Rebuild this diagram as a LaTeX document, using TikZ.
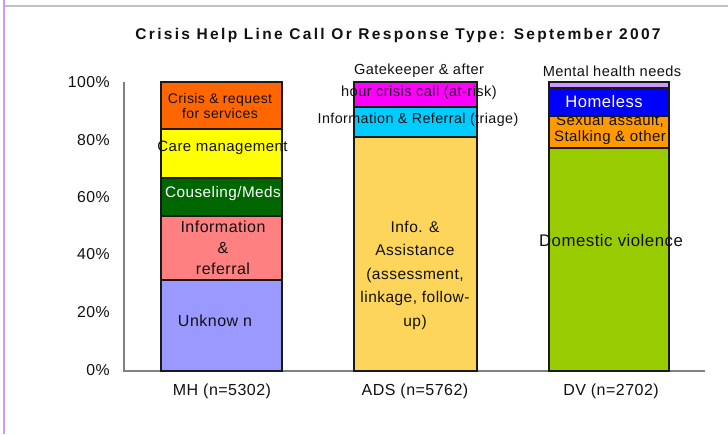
\documentclass[tikz,border=0pt]{standalone}
\usepackage{fontspec}
\setmainfont{Liberation Sans}[LetterSpace=3]
\newfontfamily\titlefont{Liberation Sans}[LetterSpace=15]
\definecolor{bpurple}{HTML}{CC99FF}
\definecolor{topgray}{HTML}{C0C0C0}
\definecolor{axisgray}{HTML}{808080}
\definecolor{cOrange}{HTML}{FF6600}
\definecolor{cYellow}{HTML}{FFFF00}
\definecolor{cDGreen}{HTML}{006600}
\definecolor{cSalmon}{HTML}{FF8080}
\definecolor{cPeri}{HTML}{9999FF}
\definecolor{cMagenta}{HTML}{FF00FF}
\definecolor{cCyan}{HTML}{00CCFF}
\definecolor{cGold}{HTML}{FCD55A}
\definecolor{cLav}{HTML}{CC99FF}
\definecolor{cBlue}{HTML}{0000FF}
\definecolor{cAmber}{HTML}{FF9900}
\definecolor{cLime}{HTML}{99CC00}
\definecolor{txt}{HTML}{111111}
\begin{document}
\begin{tikzpicture}[x=1pt,y=-1pt,
  lbl/.style={inner sep=0pt, text=txt, align=center, font=\fontsize{15}{17}\selectfont},
  seg/.style={draw=black!90, line width=1.3pt},
  axisline/.style={draw=axisgray, line width=1.5pt},
  tick/.style={inner sep=0pt, anchor=east, text=txt, font=\fontsize{15.8}{17}\selectfont},
  cat/.style={inner sep=0pt, text=txt, font=\fontsize{16}{18}\selectfont}]
\useasboundingbox (0,0) rectangle (728,434);
\fill[white] (0,0) rectangle (728,434);
% frame lines
\draw[draw=bpurple, line width=2.2pt] (4,0) -- (4,434);
\draw[draw=topgray, line width=2pt] (5.2,5.5) -- (728,5.5);
% title
\node[inner sep=0pt, text=txt, font=\titlefont\bfseries\fontsize{15.5}{17}\selectfont] (title) at (398,35) {Crisis Help Line Call Or Response Type: September 2007};
% axes
\draw[axisline] (124,82) -- (124,371) -- (705,371);
\node[tick] (t100) at (110,82) {100\%};
\node[tick] (t80) at (110,140) {80\%};
\node[tick] (t60) at (110,197) {60\%};
\node[tick] (t40) at (110,254) {40\%};
\node[tick] (t20) at (110,312) {20\%};
\node[tick] (t0) at (110,370) {0\%};
% MH bar
\fill[cPeri] (161,280) rectangle (282,371);
\fill[cSalmon] (161,216) rectangle (282,280);
\fill[cDGreen] (161,178) rectangle (282,216);
\fill[cYellow] (161,129) rectangle (282,178);
\fill[cOrange] (161,82) rectangle (282,129);
\draw[seg] (161,82) rectangle (282,371);
\draw[seg] (161,129) -- (282,129);
\draw[seg] (161,178) -- (282,178);
\draw[seg] (161,216) -- (282,216);
\draw[seg] (161,280) -- (282,280);
% ADS bar
\fill[cGold] (354,137) rectangle (477,371);
\fill[cCyan] (354,107) rectangle (477,137);
\fill[cMagenta] (354,82) rectangle (477,107);
\draw[seg] (354,82) rectangle (477,371);
\draw[seg] (354,107) -- (477,107);
\draw[seg] (354,137) -- (477,137);
% DV bar
\fill[cLime] (549,148) rectangle (669,371);
\fill[cAmber] (549,116) rectangle (669,148);
\fill[cBlue] (549,88) rectangle (669,116);
\fill[cLav] (549,82) rectangle (669,88);
\draw[seg] (549,82) rectangle (669,371);
\draw[seg] (549,88) -- (669,88);
\draw[seg] (549,116) -- (669,116);
\draw[seg] (549,148) -- (669,148);
% MH labels
\node[lbl, font=\fontsize{14}{15}\selectfont] (crisis) at (220,105.5) {Crisis \& request\\for services};
\node[lbl] (care) at (222.5,147.5) {Care management};
\node[lbl, text=white, font=\fontsize{15.3}{17}\selectfont] (cous) at (223,194) {Couseling/Meds};
\node[lbl, font=\fontsize{16}{21}\selectfont] (inforef) at (223,248) {Information\\\&\\referral};
\node[lbl, font=\fontsize{16}{18}\selectfont] (unk) at (215,321) {Unknow n};
% ADS labels
\node[lbl, font=\fontsize{14.6}{22}\selectfont] (gate) at (419,82) {Gatekeeper \& after\\hour crisis call (at-risk)};
\node[lbl, font=\fontsize{14.3}{16}\selectfont] (triage) at (418,120) {Information \& Referral (triage)};
\node[lbl, font=\fontsize{15.5}{23.5}\selectfont] (assist) at (415,275) {Info. \&\\Assistance\\(assessment,\\linkage, follow-\\up)};
% DV labels
\node[lbl, font=\fontsize{14.6}{16}\selectfont] (mental) at (612,71) {Mental health needs};
\node[lbl, text=white, font=\fontsize{16.6}{18}\selectfont] (home) at (604,102) {Homeless};
\node[lbl, font=\fontsize{15}{16}\selectfont] (sexual) at (610,130) {Sexual assault,\\Stalking \& other};
\node[lbl, font=\fontsize{16.8}{18}\selectfont] (dom) at (611,240) {Domestic violence};
% categories
\node[cat] (mh) at (222,391) {MH (n=5302)};
\node[cat] (ads) at (415,391) {ADS (n=5762)};
\node[cat] (dv) at (611,391) {DV (n=2702)};
\end{tikzpicture}
\end{document}
